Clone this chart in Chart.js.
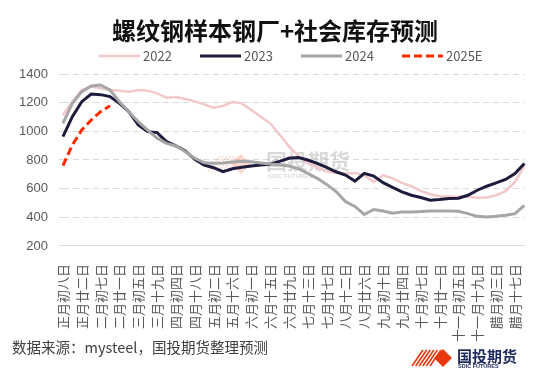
<!DOCTYPE html>
<html><head><meta charset="utf-8">
<script src="https://cdn.jsdelivr.net/npm/chart.js@4"></script>
<style>html,body{margin:0;padding:0;background:#fff}#wrap{width:550px;height:372px;position:relative}</style>
</head><body><div id="wrap"><canvas id="c"></canvas></div>
<script>
const titleText = '螺纹钢样本钢厂+社会库存预测';
const tickLabels = ['正月初八日','正月廿二日','二月初七日','二月廿一日','三月初五日','三月十九日','四月初四日','四月十八日','五月初二日','五月十六日','六月初一日','六月十五日','六月廿九日','七月十三日','七月廿七日','八月十二日','八月廿六日','九月初十日','九月廿四日','十月初七日','十月廿一日','十一月初五日','十一月十九日','腊月初三日','腊月十七日'];
const seriesNames = ['2022','2023','2024','2025E'];
const s2022 = [1114,1207,1288,1312,1300,1288,1284,1277,1288,1284,1265,1235,1240,1226,1209,1188,1165,1177,1205,1195,1149,1102,1056,978,895,827,780,748,722,710,705,710,694,647,694,671,640,617,585,561,547,543,543,543,536,538,554,582,647,757];
const s2023 = [963,1102,1207,1260,1256,1242,1195,1137,1044,998,991,928,898,863,805,765,746,718,739,749,758,765,770,790,812,817,800,777,749,718,695,653,707,688,642,609,577,554,538,519,524,531,533,554,589,617,640,664,706,776];
const s2024 = [1056,1195,1277,1316,1323,1288,1207,1137,1067,1009,951,916,898,858,812,781,777,779,786,791,788,779,772,767,758,739,707,672,630,580,510,476,420,455,444,428,438,438,440,445,445,445,442,426,407,403,407,414,426,484];
const s2025E = [760,905,1009,1079,1137,1178];
const yTicks = [200,400,600,800,1000,1200,1400];

const categories = s2023.map((_, i) => (i % 2 === 0 ? tickLabels[i / 2] : ''));

const FONT = '"Noto Sans CJK SC", "Liberation Sans", sans-serif';

const decor = {
  id: 'decor',
  beforeDatasetsDraw(chart) {
    const ctx = chart.ctx;
    ctx.save();
    // watermark
    ctx.strokeStyle = 'rgba(240,150,130,0.35)';
    ctx.lineWidth = 1.2;
    for (let i = 0; i < 7; i++) {
      ctx.beginPath();
      ctx.moveTo(208 + i * 3.5, 172);
      ctx.lineTo(220 + i * 3.5, 156);
      ctx.stroke();
    }
    ctx.fillStyle = 'rgba(240,150,130,0.35)';
    ctx.beginPath();
    ctx.moveTo(241, 154); ctx.lineTo(251, 164); ctx.lineTo(241, 174); ctx.lineTo(231, 164); ctx.closePath();
    ctx.fill();
    ctx.fillStyle = 'rgba(160,160,160,0.4)';
    ctx.font = 'bold 21px ' + FONT;
    ctx.textBaseline = 'middle';
    ctx.fillText('国投期货', 266, 161);
    ctx.font = 'bold 6px "Liberation Sans", sans-serif';
    ctx.fillText('SDIC FUTURES', 268, 176);
    ctx.restore();
  },
  afterDraw(chart) {
    const ctx = chart.ctx;
    ctx.save();
    // title
    ctx.fillStyle = '#111';
    ctx.font = 'bold 24px ' + FONT;
    ctx.textAlign = 'center';
    ctx.textBaseline = 'middle';
    ctx.fillText(titleText, 275, 31);
    ctx.textAlign = 'left';
    // legend
    ctx.font = '13px ' + FONT;
    chart.data.datasets.forEach((ds, i) => {
      const x0 = 99 + 101 * i;
      ctx.strokeStyle = ds.borderColor;
      ctx.lineWidth = ds.borderWidth;
      ctx.setLineDash(ds.borderDash || []);
      ctx.beginPath();
      ctx.moveTo(x0, 56); ctx.lineTo(x0 + 41, 56);
      ctx.stroke();
      ctx.setLineDash([]);
      ctx.fillStyle = '#595959';
      ctx.fillText(ds.label, x0 + 44, 56);
    });
    // footer
    ctx.fillStyle = '#404040';
    ctx.font = '14.5px ' + FONT;
    ctx.fillText('数据来源：mysteel，国投期货整理预测', 12, 347);
    // logo
    ctx.strokeStyle = '#e8380d';
    ctx.lineWidth = 1.6;
    for (let i = 0; i < 6; i++) {
      ctx.beginPath();
      ctx.moveTo(412 + i * 3.6, 366);
      ctx.lineTo(423 + i * 3.6, 350);
      ctx.stroke();
    }
    ctx.fillStyle = '#e8380d';
    ctx.beginPath();
    ctx.moveTo(443, 349); ctx.lineTo(452, 358); ctx.lineTo(443, 367); ctx.lineTo(434, 358); ctx.closePath();
    ctx.fill();
    ctx.fillStyle = '#1c2a5c';
    ctx.font = 'bold 15px ' + FONT;
    ctx.fillText('国投期货', 457, 356);
    ctx.font = 'bold 5.5px "Liberation Sans", sans-serif';
    ctx.fillText('SDIC FUTURES', 458, 366);
    ctx.restore();
  }
};

const mk = (label, data, color, width, order, dash) => ({
  label, data, borderColor: color, backgroundColor: color, borderWidth: width,
  pointRadius: 0, pointHoverRadius: 0, pointStyle: 'line', tension: 0, order,
  borderDash: dash || [], fill: false, spanGaps: false
});

new Chart(document.getElementById('c'), {
  type: 'line',
  data: {
    labels: categories,
    datasets: [
      mk(seriesNames[0], s2022, '#f2c8c8', 2.5, 4),
      mk(seriesNames[1], s2023, '#1e1c3c', 3, 3),
      mk(seriesNames[2], s2024, '#a6a6a6', 3, 2),
      mk(seriesNames[3], s2025E, '#ff2a00', 3, 1, [8, 4])
    ]
  },
  options: {
    responsive: true,
    maintainAspectRatio: false,
    animation: false,
    events: [],
    layout: { padding: { left: 8, right: 25, top: 74, bottom: 20 } },
    plugins: {
      tooltip: { enabled: false },
      title: { display: false },
      legend: { display: false }
    },
    scales: {
      x: {
        offset: false,
        grid: { display: false },
        border: { display: true, color: '#d9d9d9', width: 1 },
        ticks: {
          autoSkip: false, minRotation: 90, maxRotation: 90, padding: 10,
          color: '#595959', font: { family: FONT, size: 13 }
        }
      },
      y: {
        min: 200, max: 1400,
        afterBuildTicks: (axis) => { axis.ticks = yTicks.map(v => ({ value: v })); },
        grid: { color: '#d9d9d9', lineWidth: 1, drawTicks: true, tickLength: 4, tickColor: '#d9d9d9', tickBorderDash: [6, 4] },
        border: { display: false, dash: [6, 4] },
        ticks: { padding: 11, color: '#595959', font: { family: '"Liberation Sans", sans-serif', size: 13 }, callback: (v) => String(v) }
      }
    }
  },
  plugins: [decor]
});
</script>
</body></html>
